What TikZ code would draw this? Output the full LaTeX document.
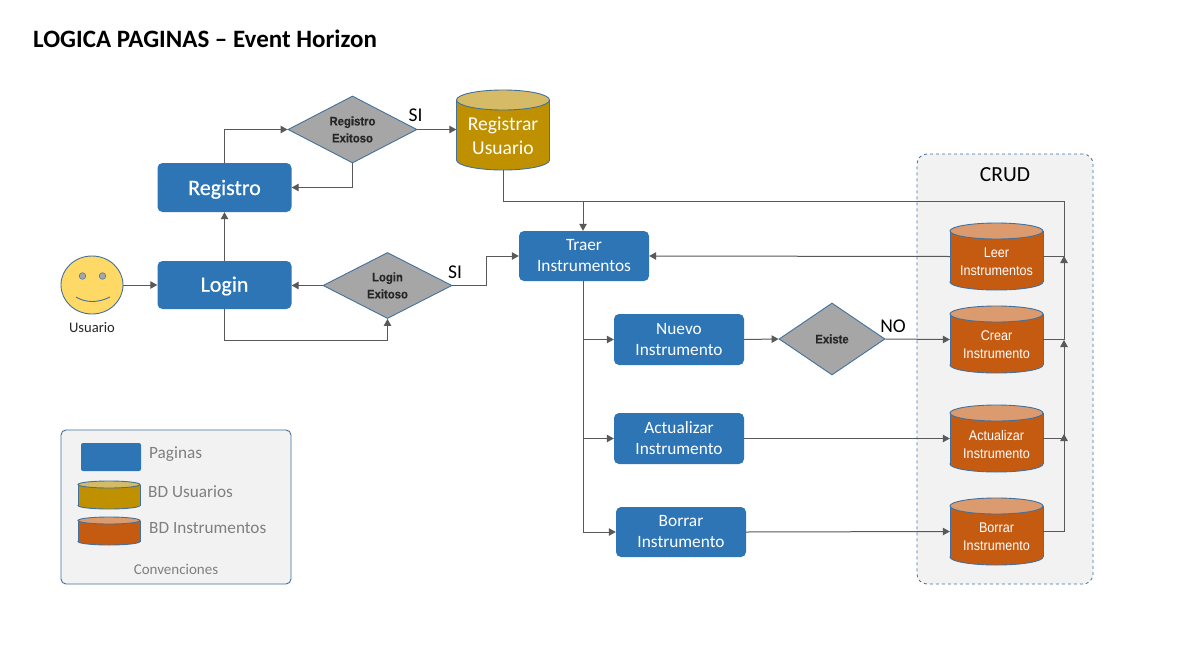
\documentclass[tikz,border=0pt]{standalone}
\usepackage{fontspec}
\setmainfont{Carlito}
\newfontfamily\arialn[FakeStretch=0.9]{Liberation Sans}
\newfontfamily\arialb[FakeStretch=0.92,FakeBold=0.4]{Liberation Sans}
\newfontfamily\carsb[FakeBold=0.5]{Carlito}
\usetikzlibrary{shapes.geometric,arrows.meta}
\definecolor{pageblue}{HTML}{2E75B6}
\definecolor{edgeblue}{HTML}{41719C}
\definecolor{goldbody}{HTML}{BF9000}
\definecolor{goldtop}{HTML}{D6BB66}
\definecolor{orbody}{HTML}{C55A11}
\definecolor{ortop}{HTML}{DC9A6F}
\definecolor{diamgray}{HTML}{A6A6A6}
\definecolor{linegray}{HTML}{595959}
\definecolor{panel}{HTML}{F2F2F2}
\definecolor{legtext}{HTML}{7F7F7F}
\definecolor{smile}{HTML}{FFD966}
\tikzset{
  pagebox/.style={draw=none,fill=pageblue,rounded corners=5pt,inner sep=0pt,text=white,align=center,font=\fontsize{17.3}{21}\selectfont},
  bigpage/.style={pagebox,font=\carsb\fontsize{22}{25}\selectfont},
  drumfont/.style={font=\arialn\fontsize{14}{18}\selectfont},
  goldfont/.style={font=\fontsize{19.6}{24}\selectfont},
  drumtext/.style={inner sep=0pt,align=center,text=white},
  decision/.style={diamond,aspect=2,draw=edgeblue,line width=0.9pt,fill=diamgray,inner sep=0pt,align=center,text=black!85,font=\arialb\bfseries\fontsize{12.3}{17}\selectfont},
  conn/.style={draw=linegray,line width=1pt,-{Triangle[length=7pt,width=7.5pt]}},
  plain/.style={draw=linegray,line width=1pt},
  lbl/.style={font=\fontsize{19.5}{22}\selectfont,text=black},
  legend/.style={font=\fontsize{17.2}{20}\selectfont,text=legtext,anchor=west,inner sep=0pt}
}
% name, cx, cy, width, height, y radius, body colour, top colour
\newcommand\drumshape[8]{%
  \pgfmathsetmacro\dl{#2-#4/2}\pgfmathsetmacro\dr{#2+#4/2}%
  \pgfmathsetmacro\dt{#3-#5/2+#6}\pgfmathsetmacro\db{#3+#5/2-#6}%
  \path[fill=#7,draw=edgeblue,line width=0.9pt] (#2,\db) ellipse [x radius=#4/2,y radius=#6];%
  \fill[#7] (\dl,\dt) rectangle (\dr,\db);%
  \draw[edgeblue,line width=0.9pt] (\dl,\dt) -- (\dl,\db) (\dr,\dt) -- (\dr,\db);%
  \path[fill=#8,draw=edgeblue,line width=0.9pt] (#2,\dt) ellipse [x radius=#4/2,y radius=#6];%
  \node[minimum width=#4 pt,minimum height=#5 pt,inner sep=0pt] (#1) at (#2,#3) {};%
}
\begin{document}
\begin{tikzpicture}[x=1pt,y=-1pt]
\useasboundingbox (0,0) rectangle (1192,664);
\fill[white] (0,0) rectangle (1192,664);
\node[anchor=west,inner sep=0pt,font=\bfseries\fontsize{25}{28}\selectfont] (title) at (33,39) {LOGICA PAGINAS – Event Horizon};

% panels
\node[draw=edgeblue,dashed,fill=panel,rounded corners=10pt,minimum width=176pt,minimum height=430pt,inner sep=0pt,line width=0.8pt] (crudbox) at (1005,369) {};
\node[font=\fontsize{21.5}{24}\selectfont] (crudlabel) at (1005,175) {CRUD};
\node[draw=edgeblue,fill=panel,rounded corners=5pt,minimum width=230pt,minimum height=154pt,inner sep=0pt,line width=0.9pt] (legbox) at (176,507) {};

% user
\node[ellipse,draw=edgeblue,fill=smile,minimum width=62pt,minimum height=58pt,inner sep=0pt,line width=0.9pt] (user) at (92,285) {};
\path[fill=diamgray,draw=edgeblue,line width=0.5pt] (82.5,276) circle (3.3pt);
\path[fill=diamgray,draw=edgeblue,line width=0.5pt] (102.5,276) circle (3.3pt);
\draw[edgeblue,line width=0.9pt] (76,297) .. controls (86,303) and (98,303) .. (110,297);
\node[font=\fontsize{14.6}{16}\selectfont,text=black!85] (userlabel) at (92,328) {Usuario};

% pages
\node[bigpage,minimum width=134pt,minimum height=49pt] (registro) at (224.5,187.5) {\raisebox{-7.5pt}[0pt][0pt]{Registro}};
\node[bigpage,minimum width=134pt,minimum height=48pt] (login) at (224.5,285) {\raisebox{-6.7pt}[0pt][0pt]{Login}};
\node[pagebox,minimum width=130pt,minimum height=50pt] (traer) at (584,256) {Traer\\Instrumentos};
\node[pagebox,minimum width=130pt,minimum height=51pt] (nuevo) at (679,339.5) {Nuevo\\Instrumento};
\node[pagebox,minimum width=130pt,minimum height=51pt] (actual) at (679,438.5) {Actualizar\\Instrumento};
\node[pagebox,minimum width=130pt,minimum height=50pt] (borrar) at (681,532) {Borrar\\Instrumento};

% decisions
\node[decision,minimum width=129pt,minimum height=67pt] (dreg) at (352.5,129.5) {Registro\\Exitoso};
\node[decision,minimum width=129pt,minimum height=66pt] (dlog) at (387.5,285.5) {Login\\Exitoso};
\node[decision,aspect=1.47,minimum width=106pt,minimum height=72pt] (dexi) at (832,339) {Existe};

% drums
\drumshape{regusu}{503}{130}{93}{80}{10}{goldbody}{goldtop}
\node[drumtext,goldfont] (regusutext) at (503,136) {Registrar\\Usuario};
\drumshape{leer}{996.5}{256.5}{93}{67}{8}{orbody}{ortop}
\node[drumtext,drumfont] (leertext) at (996.5,262) {Leer\\Instrumentos};
\drumshape{crear}{996.5}{339.5}{93}{67}{8}{orbody}{ortop}
\node[drumtext,drumfont] (creartext) at (996.5,345) {Crear\\Instrumento};
\drumshape{bdact}{996.5}{438.5}{93}{67}{8}{orbody}{ortop}
\node[drumtext,drumfont] (bdacttext) at (996.5,444) {Actualizar\\Instrumento};
\drumshape{bdbor}{996.5}{531.5}{93}{67}{8}{orbody}{ortop}
\node[drumtext,drumfont] (bdbortext) at (996.5,537) {Borrar\\Instrumento};

% legend
\node[pagebox,minimum width=60pt,minimum height=28pt,rounded corners=2pt] (lpage) at (111,457) {};
\drumshape{lgold}{109}{495}{62}{28}{3.5}{goldbody}{goldtop}
\drumshape{lor}{109}{531}{62}{28}{3.5}{orbody}{ortop}
\node[legend] (t1) at (149,454) {Paginas};
\node[legend] (t2) at (148,492) {BD Usuarios};
\node[legend] (t3) at (149,528) {BD Instrumentos};
\node[font=\fontsize{15}{17}\selectfont,text=legtext] (t4) at (176,569) {Convenciones};

% junctions
\coordinate (j0) at (1064,201);
\coordinate (j1) at (1064,256);
\coordinate (j2) at (1064,340);
\coordinate (j3) at (1064,434);
\coordinate (jr) at (583,201);
\coordinate (jt) at (583,281);
\coordinate (ju) at (387.5,340.5);

% connectors
\draw[conn] (user.east) -- (login.west);
\draw[conn] (login.north) -- (registro.south);
\draw[conn] (registro.north) |- (dreg.west);
\draw[conn] (dreg.south) |- (registro.east);
\draw[conn] (dreg.east) -- (regusu.west |- dreg.east);
\draw[plain] (regusu.south) |- (jr);
\draw[conn] (dlog.west) -- (login.east |- dlog.west);
\draw[conn] (login.south) |- (ju) -- (dlog.south);
\draw[conn] (dlog.east) -- ++(34,0) |- (traer.west);
\draw[conn] (jt) |- (nuevo.west);
\draw[conn] (jt) |- (actual.west);
\draw[conn] (jt) |- (borrar.west);
\draw[conn] (nuevo.east) -- (dexi.west);
\draw[conn] (dexi.east) -- (crear.west);
\draw[conn] (actual.east) -- (bdact.west);
\draw[conn] (borrar.east) -- (bdbor.west);
\draw[conn] (leer.west) -- (traer.east);
\draw[conn] (leer.east) -| (j0) -- (jr) -- (jr |- traer.north);
\draw[conn] (crear.east) -| (j1);
\draw[conn] (bdact.east) -| (j2);
\draw[conn] (bdbor.east) -| (j3);

% labels
\node[lbl] (si1) at (415.5,115) {SI};
\node[lbl] (si2) at (455,272) {SI};
\node[lbl] (no) at (893,326) {NO};
\end{tikzpicture}
\end{document}
